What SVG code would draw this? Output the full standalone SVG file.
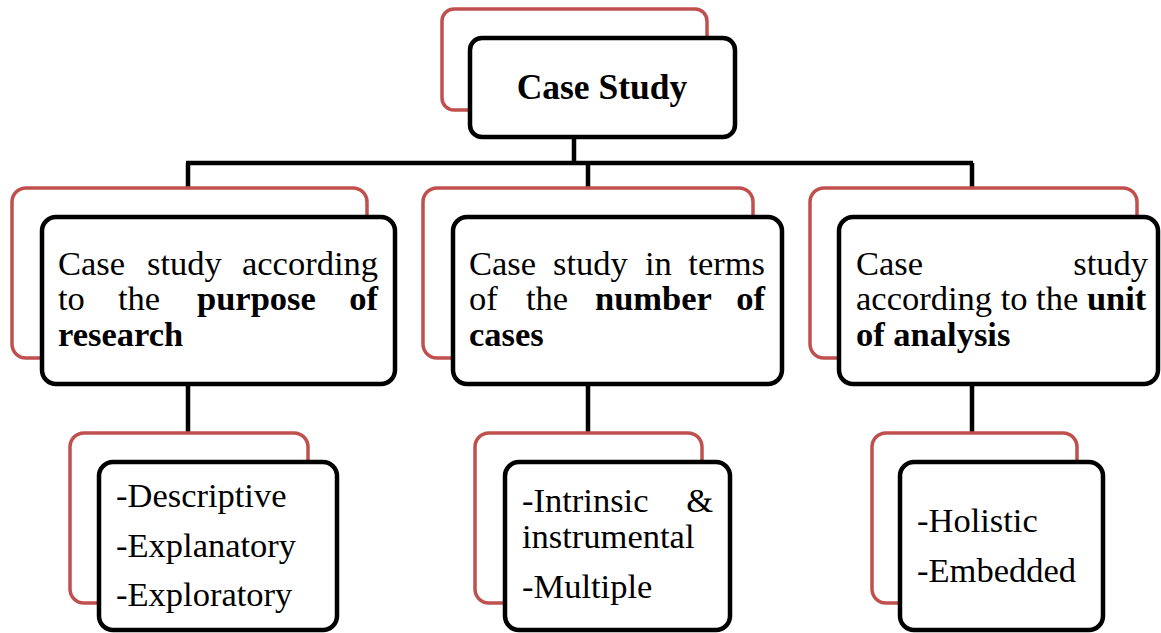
<svg xmlns="http://www.w3.org/2000/svg" width="1161" height="633" viewBox="0 0 1161 633">
<style>
.back{fill:#fff;stroke:#C0504D;stroke-width:3.5}
.front{fill:#fff;stroke:#000;stroke-width:4.5}
.t{font-family:"Liberation Serif","Times New Roman",serif;font-size:34.5px;fill:#000}
.b{font-weight:bold}
.con{stroke:#000;stroke-width:4.5;fill:none}
</style>
<rect width="1161" height="633" fill="#fff"/>
<g id="connectors">
<path class="con" d="M574,137 V163 M186,163 H973 M188,163 V188 M588,163 V188 M972,163 V188"/>
<path class="con" d="M188,384 V433 M588,384 V433 M972,384 V433"/>
</g>
<g id="root">
<rect class="back" x="442" y="9" width="265" height="101" rx="12"/>
<rect class="front" x="470" y="38" width="265" height="99" rx="12"/>
<text class="t b" x="602" y="99" text-anchor="middle" style="font-size:35.5px">Case Study</text>
</g>
<g id="purpose">
<rect class="back" x="12" y="188" width="355" height="170" rx="14"/>
<rect class="front" x="42" y="217" width="353" height="167" rx="14"/>
<text class="t" y="275"><tspan x="58">Case</tspan><tspan x="147">study</tspan><tspan x="378" text-anchor="end">according</tspan></text>
<text class="t" y="310"><tspan x="58">to</tspan><tspan x="118">the</tspan><tspan x="197" class="b">purpose</tspan><tspan x="378" text-anchor="end" class="b">of</tspan></text>
<text class="t b" x="58" y="346">research</text>
</g>
<g id="number">
<rect class="back" x="423" y="188" width="330" height="170" rx="14"/>
<rect class="front" x="453" y="217" width="329" height="167" rx="14"/>
<text class="t" y="275"><tspan x="469">Case</tspan><tspan x="553">study</tspan><tspan x="645">in</tspan><tspan x="765" text-anchor="end">terms</tspan></text>
<text class="t" y="310"><tspan x="469">of</tspan><tspan x="526">the</tspan><tspan x="595" class="b">number</tspan><tspan x="765" text-anchor="end" class="b">of</tspan></text>
<text class="t b" x="469" y="346">cases</text>
</g>
<g id="unit">
<rect class="back" x="810" y="188" width="327" height="170" rx="14"/>
<rect class="front" x="839" y="217" width="319" height="167" rx="14"/>
<text class="t" y="275"><tspan x="856">Case</tspan><tspan x="1148" text-anchor="end">study</tspan></text>
<text class="t" x="856" y="310">according to the <tspan class="b">unit</tspan></text>
<text class="t b" x="856" y="346">of analysis</text>
</g>
<g id="purpose-types">
<rect class="back" x="70" y="433" width="238" height="170" rx="14"/>
<rect class="front" x="99" y="462" width="238" height="168" rx="14"/>
<text class="t" x="116" y="507">-Descriptive</text>
<text class="t" x="116" y="557">-Explanatory</text>
<text class="t" x="116" y="606">-Exploratory</text>
</g>
<g id="number-types">
<rect class="back" x="475" y="433" width="227" height="170" rx="14"/>
<rect class="front" x="505" y="462" width="225" height="168" rx="14"/>
<text class="t" y="512"><tspan x="522">-Intrinsic</tspan><tspan x="713" text-anchor="end">&amp;</tspan></text>
<text class="t" x="522" y="548">instrumental</text>
<text class="t" x="522" y="598">-Multiple</text>
</g>
<g id="unit-types">
<rect class="back" x="872" y="433" width="205" height="170" rx="14"/>
<rect class="front" x="900" y="462" width="203" height="168" rx="14"/>
<text class="t" x="917" y="532">-Holistic</text>
<text class="t" x="917" y="582">-Embedded</text>
</g>
</svg>
